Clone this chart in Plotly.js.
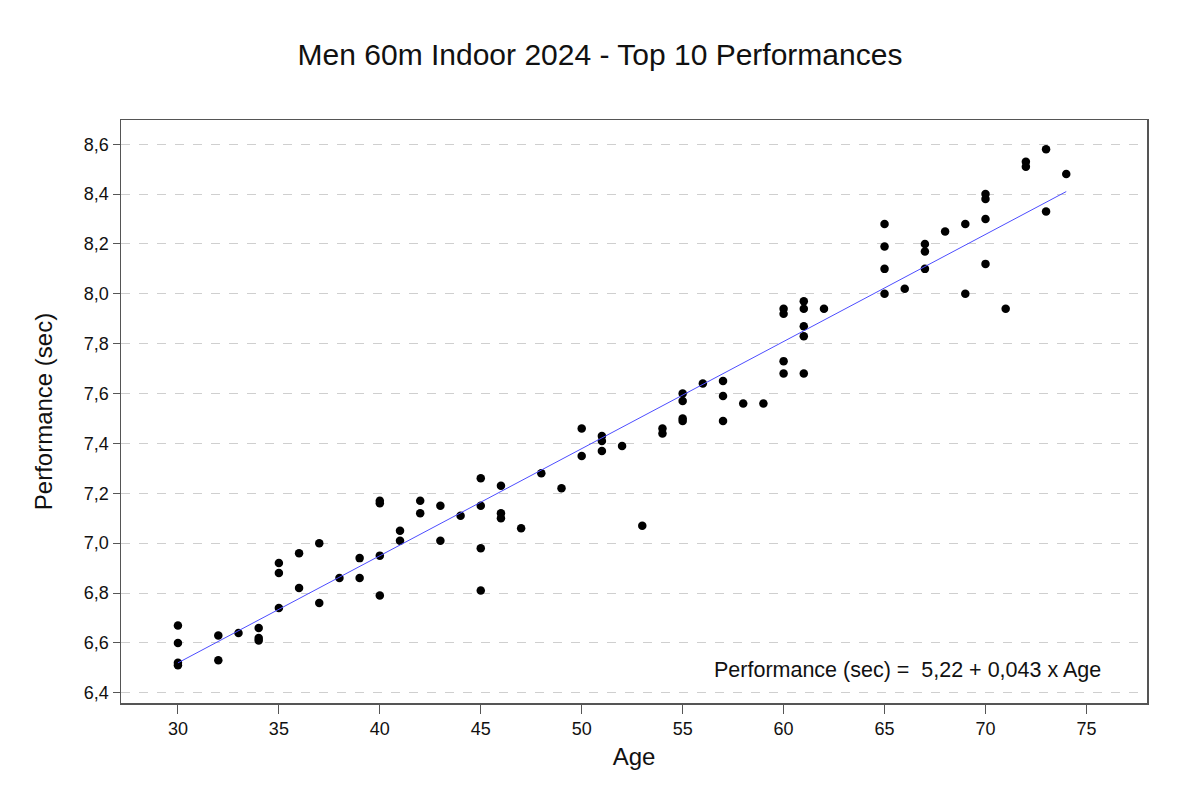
<!DOCTYPE html>
<html>
<head>
<meta charset="utf-8">
<script src="https://cdn.plot.ly/plotly-3.0.1.min.js"></script>
<style>html,body{margin:0;padding:0;background:#fff;}#chart{width:1200px;height:796px;}</style>
</head>
<body>
<div id="chart"></div>
<script>
const ages = [
  30,30,30,30, 32,32, 33, 34,34,34, 35,35,35, 36,36, 37,37, 38, 39,39,
  40,40,40,40, 41,41, 42,42, 43,43, 44, 45,45,45,45, 46,46,46, 47, 48, 49,
  50,50, 51,51,51, 52, 53, 54,54, 55,55,55,55, 56, 57,57,57, 58, 59,
  60,60,60,60, 61,61,61,61,61, 62, 65,65,65,65, 66, 67,67,67, 68, 69,69,
  70,70,70,70, 71, 72,72, 73,73, 74
];
const performances = [
  6.67,6.60,6.52,6.51, 6.63,6.53, 6.64, 6.66,6.62,6.61, 6.92,6.88,6.74, 6.96,6.82, 7.00,6.76, 6.86, 6.94,6.86,
  7.17,7.16,6.95,6.79, 7.05,7.01, 7.17,7.12, 7.15,7.01, 7.11, 7.26,7.15,6.98,6.81, 7.23,7.12,7.10, 7.06, 7.28, 7.22,
  7.46,7.35, 7.43,7.41,7.37, 7.39, 7.07, 7.46,7.44, 7.60,7.57,7.50,7.49, 7.64, 7.65,7.59,7.49, 7.56, 7.56,
  7.94,7.92,7.73,7.68, 7.97,7.94,7.87,7.83,7.68, 7.94, 8.28,8.19,8.10,8.00, 8.02, 8.20,8.17,8.10, 8.25, 8.28,8.00,
  8.40,8.38,8.30,8.12, 7.94, 8.53,8.51, 8.58,8.33, 8.48
];
const fitAges = [30, 74];
const fitValues = [6.52, 8.41];
const yTicks = [6.4, 6.6, 6.8, 7.0, 7.2, 7.4, 7.6, 7.8, 8.0, 8.2, 8.4, 8.6];
const xTicks = [30, 35, 40, 45, 50, 55, 60, 65, 70, 75];
const titleText = 'Men 60m Indoor 2024 - Top 10 Performances';
const equationText = 'Performance (sec) =  5,22 + 0,043 x Age';

const font = 'Arial, "Liberation Sans", sans-serif';
const traces = [
  {
    x: ages, y: performances, type: 'scatter', mode: 'markers',
    marker: {color: '#000', size: 8.5}, hoverinfo: 'x+y', showlegend: false
  },
  {
    x: fitAges, y: fitValues, type: 'scatter', mode: 'lines',
    line: {color: '#4d4dff', width: 1}, showlegend: false
  }
];
const layout = {
  width: 1200, height: 796,
  paper_bgcolor: '#fff', plot_bgcolor: '#fff',
  separators: ',.',
  margin: {l: 121, r: 53, t: 120, b: 93},
  font: {family: font, color: '#222'},
  title: {text: titleText, font: {size: 30, color: '#111', family: font}, x: 0.5, xref: 'container', y: 0.931, yref: 'container', yanchor: 'middle'},
  xaxis: {
    range: [27.18, 78.0], tickvals: xTicks, ticktext: xTicks.map(String),
    showgrid: false, zeroline: false,
    showline: true, mirror: true, linecolor: '#555', linewidth: 1.5,
    ticks: 'outside', ticklen: 9, tickcolor: '#555', tickwidth: 1,
    tickfont: {size: 18, color: '#111'},
    title: {text: 'Age', font: {size: 24, color: '#111'}, standoff: 10}
  },
  yaxis: {
    range: [6.359, 8.697], tickvals: yTicks, tickformat: '.1f',
    showgrid: true, gridcolor: '#cfcfcf', griddash: 'dash', gridwidth: 1,
    zeroline: false,
    showline: true, mirror: true, linecolor: '#555', linewidth: 1.5,
    ticks: 'outside', ticklen: 7, tickcolor: '#555', tickwidth: 1,
    tickfont: {size: 18, color: '#111'},
    title: {text: 'Performance (sec)', font: {size: 24, color: '#111'}, standoff: 24}
  },
  annotations: [{
    text: equationText, xref: 'paper', yref: 'paper', x: 0.957, y: 0.056,
    xanchor: 'right', yanchor: 'middle', showarrow: false,
    font: {size: 21.5, color: '#111', family: font}
  }]
};
Plotly.newPlot('chart', traces, layout, {displayModeBar: false, staticPlot: true});
</script>
</body>
</html>
